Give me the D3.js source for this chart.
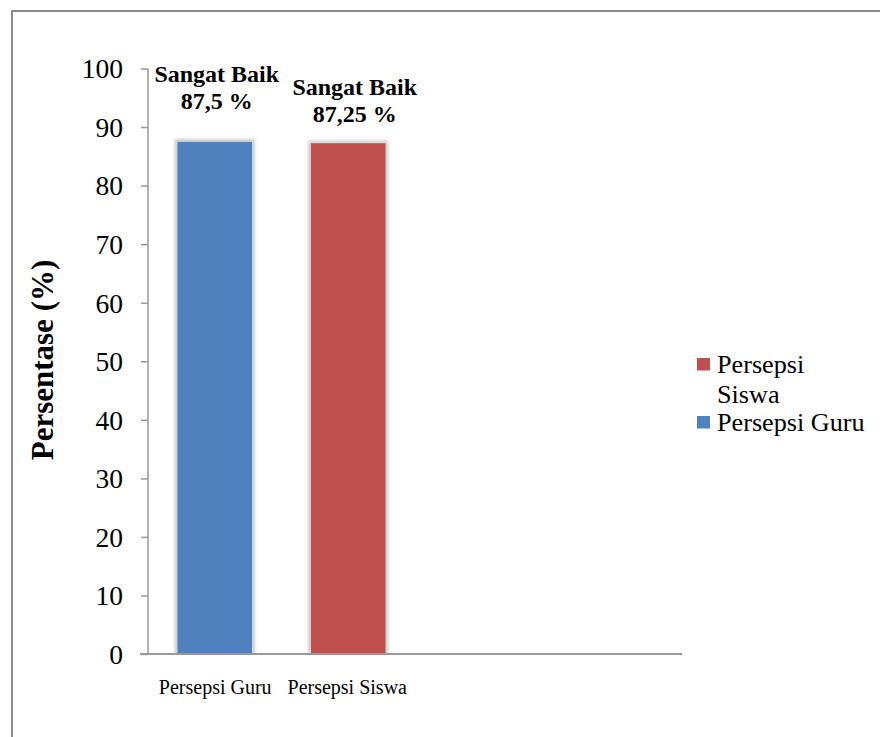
<!DOCTYPE html>
<html>
<head>
<meta charset="utf-8">
<script src="https://cdn.jsdelivr.net/npm/d3@7/dist/d3.min.js"></script>
<style>
  html, body { margin: 0; padding: 0; background: #fff; }
  svg { display: block; }
</style>
</head>
<body>
<div id="chart"></div>
<script>
// Chart data
const categories = ["Persepsi Guru", "Persepsi Siswa"];
const values = [87.5, 87.25];
const valueLabels = ["87,5 %", "87,25 %"];
const ratingLabels = ["Sangat Baik", "Sangat Baik"];
const colors = ["#4F81BD", "#C0504D"];
const yTicks = [0, 10, 20, 30, 40, 50, 60, 70, 80, 90, 100];
const legendItems = [
  { lines: ["Persepsi", "Siswa"], color: "#C0504D" },
  { lines: ["Persepsi Guru"], color: "#4F81BD" }
];

// Hand-placed data-label offsets (dx from bar centre, gap above bar top)
const labelLayout = [{ dx: 2, gap: 33 }, { dx: 6.5, gap: 21.5 }];

const W = 880, H = 737;
const plot = { left: 148, right: 682, top: 68.5, bottom: 654 };
const serif = "'Times New Roman', 'Liberation Serif', serif";

const svg = d3.select("#chart").append("svg")
  .attr("width", W).attr("height", H);

// soft glow behind bars
const defs = svg.append("defs");
const f = defs.append("filter").attr("id", "glow")
  .attr("x", "-20%").attr("y", "-5%").attr("width", "140%").attr("height", "110%");
f.append("feGaussianBlur").attr("stdDeviation", 1.8);

// outer frame
svg.append("rect")
  .attr("x", 12).attr("y", 11)
  .attr("width", W + 10).attr("height", H + 10)
  .attr("fill", "none").attr("stroke", "#8c8c8c").attr("stroke-width", 2);

// scales
const y = d3.scaleLinear().domain([0, 100]).range([plot.bottom, plot.top]);
const step = (plot.right - plot.left) / 4;
const x = d3.scaleBand().domain(categories)
  .range([plot.left, plot.left + step * 2])
  .paddingInner(0.44).paddingOuter(0.22);

// y axis
const yAxis = d3.axisLeft(y).tickValues(yTicks).tickSize(7).tickPadding(18)
  .tickFormat(d3.format("d"));
const gy = svg.append("g").attr("transform", `translate(${plot.left},0)`).call(yAxis);
gy.select(".domain").remove();
gy.selectAll(".tick line").attr("stroke", "#999").attr("stroke-width", 1.5);
gy.selectAll(".tick text")
  .attr("font-family", serif).attr("font-size", 27.5).attr("fill", "#000")
  .attr("dy", "0.34em");
svg.append("line")
  .attr("x1", plot.left).attr("x2", plot.left)
  .attr("y1", plot.top).attr("y2", plot.bottom)
  .attr("stroke", "#999").attr("stroke-width", 1.5);

// bars: glow, light edge, then fill
const bars = svg.append("g");
categories.forEach((c, i) => {
  const bx = x(c), bw = x.bandwidth();
  const by = y(values[i]);
  bars.append("rect")
    .attr("x", bx - 2.5).attr("y", by - 2.5)
    .attr("width", bw + 5).attr("height", plot.bottom - by + 2.5)
    .attr("fill", "#c8c8c8").attr("filter", "url(#glow)");
  bars.append("rect")
    .attr("x", bx - 0.5).attr("y", by - 0.5)
    .attr("width", bw + 1).attr("height", plot.bottom - by + 0.5)
    .attr("fill", "#f4f4f4");
  bars.append("rect")
    .attr("x", bx).attr("y", by)
    .attr("width", bw).attr("height", plot.bottom - by)
    .attr("fill", colors[i]);
});

// x axis baseline
svg.append("line")
  .attr("x1", plot.left - 8).attr("x2", plot.right)
  .attr("y1", plot.bottom).attr("y2", plot.bottom)
  .attr("stroke", "#999").attr("stroke-width", 2);

// category labels
svg.append("g").selectAll("text").data(categories).join("text")
  .attr("x", (d, i) => x(d) + x.bandwidth() / 2 + (i === 0 ? 0.5 : -1))
  .attr("y", 694)
  .attr("text-anchor", "middle")
  .attr("font-family", serif).attr("font-size", 20).attr("fill", "#000")
  .text(d => d);

// data labels
categories.forEach((c, i) => {
  const cx = x(c) + x.bandwidth() / 2 + labelLayout[i].dx;
  const base = y(values[i]) - labelLayout[i].gap;
  const t = svg.append("text")
    .attr("text-anchor", "middle")
    .attr("font-family", serif).attr("font-weight", "bold")
    .attr("font-size", 24).attr("fill", "#000");
  t.append("tspan").attr("x", cx).attr("y", base - 26.5).text(ratingLabels[i]);
  t.append("tspan").attr("x", cx).attr("y", base).text(valueLabels[i]);
});

// y axis title
svg.append("text")
  .attr("transform", "translate(53,360) rotate(-90)")
  .attr("text-anchor", "middle")
  .attr("font-family", serif).attr("font-weight", "bold")
  .attr("font-size", 31).attr("fill", "#000")
  .text("Persentase (%)");

// legend
const lg = svg.append("g");
let ly = 373;
legendItems.forEach(item => {
  lg.append("rect")
    .attr("x", 697).attr("y", ly - 15)
    .attr("width", 13).attr("height", 12.5)
    .attr("fill", item.color);
  item.lines.forEach((line, j) => {
    lg.append("text")
      .attr("x", 717).attr("y", ly + j * 29.5)
      .attr("font-family", serif).attr("font-size", 26.2).attr("fill", "#000")
      .text(line);
  });
  ly += item.lines.length * 29;
});
</script>
</body>
</html>
